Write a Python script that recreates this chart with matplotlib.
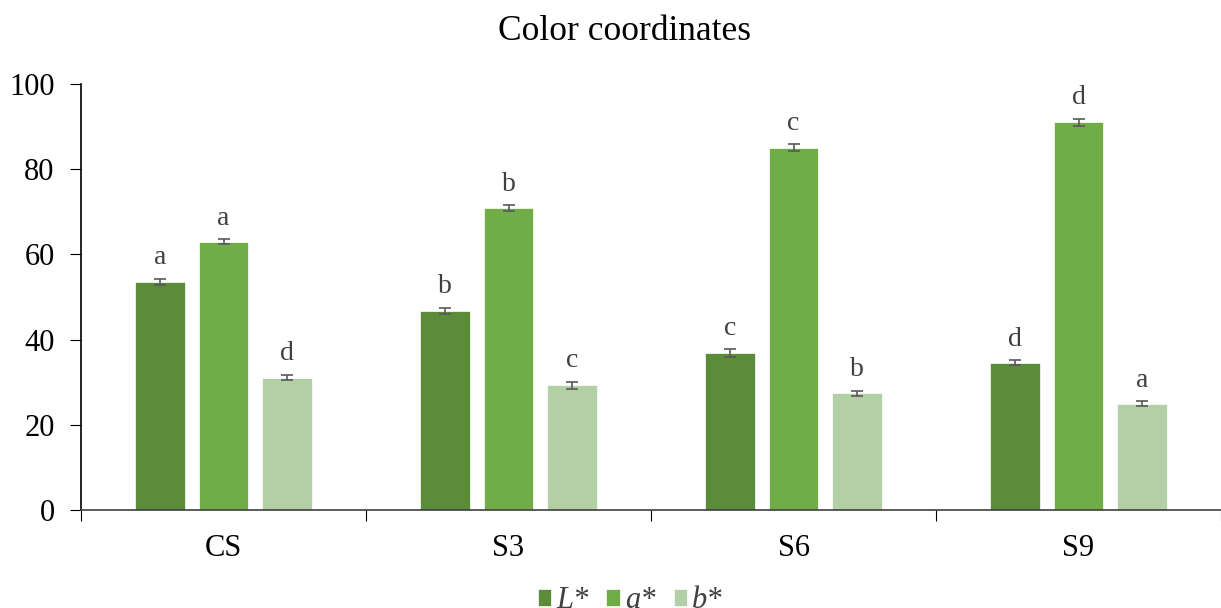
import numpy as np
import matplotlib
matplotlib.use("Agg")
import matplotlib.pyplot as plt

plt.rcParams["font.family"] = ["Liberation Serif", "DejaVu Serif"]

# data
groups = ["CS", "S3", "S6", "S9"]
series = ["L*", "a*", "b*"]
L_vals = [53.5, 46.7, 36.8, 34.6]
a_vals = [63.0, 70.9, 85.0, 91.0]
b_vals = [31.1, 29.3, 27.4, 24.9]
L_err = [0.8, 0.8, 0.9, 0.6]
a_err = [0.6, 0.6, 0.8, 0.9]
b_err = [0.6, 0.8, 0.6, 0.6]
L_sig = ["a", "b", "c", "d"]
a_sig = ["a", "b", "c", "d"]
b_sig = ["d", "c", "b", "a"]

colors = ["#5b8c3a", "#70ad47", "#b3cfa5"]

fig = plt.figure(figsize=(12.21, 6.08), dpi=100)
ax = fig.add_axes([81 / 1221, 1 - 510 / 608, (1221 - 81) / 1221, (510 - 84) / 608])

x = np.arange(len(groups))
width = 0.174
step = 0.223
vals = [L_vals, a_vals, b_vals]
errs = [L_err, a_err, b_err]
sigs = [L_sig, a_sig, b_sig]

for i in range(3):
    pos = x + (i - 1) * step
    ax.bar(pos, vals[i], width, color=colors[i], label=series[i],
           edgecolor="white", linewidth=0.5)
    ax.errorbar(pos, vals[i], yerr=errs[i], fmt="none", ecolor="#595959",
                elinewidth=1.2, capsize=4, capthick=1.2)
    for p, v, e, s in zip(pos, vals[i], errs[i], sigs[i]):
        ax.text(p, v + e + 2.0, s, ha="center", va="bottom", fontsize=20,
                color="#404040")

ax.set_ylim(0, 100)
ax.set_yticks([0, 20, 40, 60, 80, 100])
ax.set_xlim(-0.5, -0.5 + 1140 / 287)
ax.set_xticks(np.arange(-0.5, 4, 1.0))
ax.set_xticklabels([])
ax.set_xticks(x, minor=True)
ax.set_xticklabels(groups, minor=True, fontsize=22)
ax.tick_params(axis="x", which="major", length=8, direction="out")
ax.tick_params(axis="x", which="minor", length=0, pad=17)
ax.tick_params(axis="y", length=8, labelsize=22, pad=11)
for side in ["top", "right"]:
    ax.spines[side].set_visible(False)
ax.spines["left"].set_linewidth(1.2)
ax.spines["bottom"].set_linewidth(1.2)
ax.spines["bottom"].set_color("#404040")

fig.text(624 / 1221, 1 - 32 / 608, "Color coordinates", ha="center", va="center",
         fontsize=25.5)

leg = fig.legend(loc="center", bbox_to_anchor=(630 / 1221, 1 - 601 / 608), ncol=3,
                 frameon=False, handlelength=0.45, handleheight=0.45,
                 handletextpad=0.15, columnspacing=0.6,
                 prop={"style": "italic", "size": 22})
for t in leg.get_texts():
    t.set_color("#404040")

fig.savefig("out.png", dpi=100)
